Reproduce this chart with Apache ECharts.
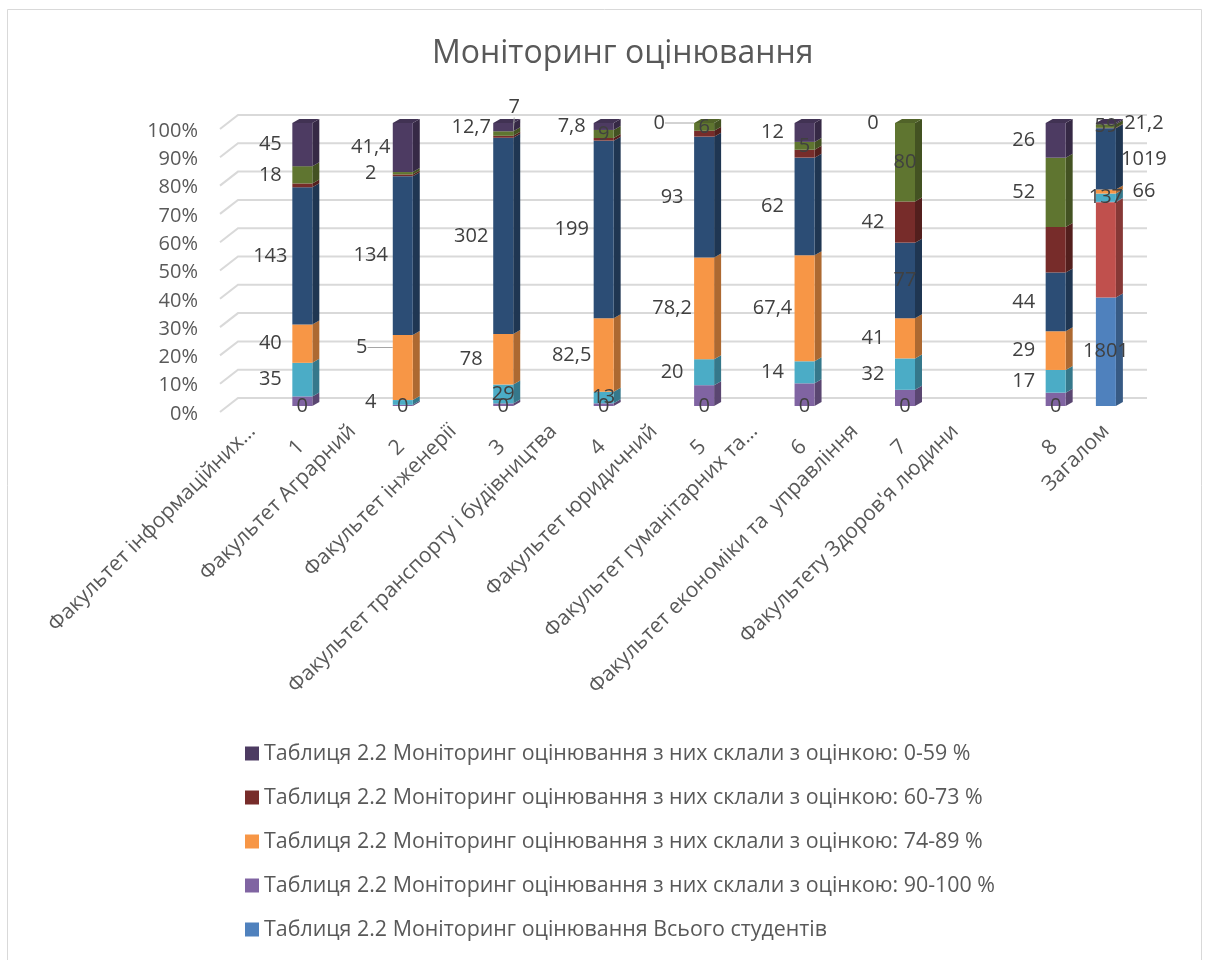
<!DOCTYPE html>
<html>
<head>
<meta charset="utf-8">
<title>Моніторинг оцінювання</title>
<script src="https://cdn.jsdelivr.net/npm/echarts@6.0.0/dist/echarts.min.js"></script>
<style>
  html, body { margin: 0; padding: 0; background: #fff; }
  #chart { width: 1215px; height: 960px; }
</style>
</head>
<body>
<div id="chart"></div>
<script>
// ----------------------- дані start -------------------
// категорії осі X (стовпці стоять тільки на слотах barSlots)
var categories = ['Факультет інформаційних…', '1', 'Факультет Аграрний', '2', 'Факультет інженерії', '3',
  'Факультет транспорту і будівництва', '4', 'Факультет юридичний', '5', 'Факультет гуманітарних та…', '6',
  'Факультет економіки та  управління', '7', "Факультету Здоров'я людини", '', '8', 'Загалом']
var barSlots = [1, 3, 5, 7, 9, 11, 13, 16, 17]

// ряди знизу вгору, по одному значенню на стовпець (1..8, Загалом)
var totalStudents = [0, 0, 0, 0, 0, 0, 0, 0, 1801]
var row2 = [0, 0, 0, 0, 0, 0, 0, 0, 1580]
var grade90 = [10, 1, 4, 3, 16, 14.4, 16.5, 10, 5]
var row5 = [35, 4, 29, 13, 20, 14, 32, 17, 137]
var grade74 = [40, 55, 78, 82.5, 78.2, 67.4, 41, 29, 66]
var row7 = [143, 134, 302, 199, 93, 62, 77, 44, 1019]
var grade60 = [4, 1.5, 3, 3, 4.5, 5, 42, 34, 5]
var row9 = [18, 2, 7, 9, 6, 5, 80, 52, 59]
var grade0 = [45, 41.4, 12.7, 7.8, 0, 12, 0, 26, 21.2]

var yTicks = [0, 10, 20, 30, 40, 50, 60, 70, 80, 90, 100]
// ----------------------- дані end -------------------

var NAME = 'Таблиця 2.2 Моніторинг оцінювання '
var TEXT = '#595959'
var LABEL = '#404040'
var FONT = 'Open Sans'
var BAR_W = 20
var DX = 7, DY = 4   // глибина стовпця
var WALL_DX = 18, WALL_DY = 14  // глибина стінки

// labels: 'all' | 'none' | [індекси стовпців]
var seriesDefs = [
  { name: NAME + 'Всього студентів', data: totalStudents, color: '#4F81BD', labels: 'all', posAt: { all: 'inside' } },
  { name: 'Ряд 2', data: row2, color: '#C0504D', labels: 'none' },
  { name: NAME + 'з них склали з оцінкою: 90-100 %', data: grade90, color: '#8064A2', labels: 'none' },
  { name: 'Ряд 5', data: row5, color: '#4BACC6', labels: 'all', posAt: { 2: 'inside', 3: 'inside', 8: 'inside' } },
  { name: NAME + 'з них склали з оцінкою: 74-89 %', data: grade74, color: '#F79646', labels: 'all',
    posAt: { 8: 'right' }, textAt: { 1: '5' }, moveAt: { 1: [-9, -20] } },
  { name: 'Ряд 7', data: row7, color: '#2C4D75', labels: 'all', posAt: { 6: 'inside', 8: 'right' } },
  { name: NAME + 'з них склали з оцінкою: 60-73 %', data: grade60, color: '#772C2A', labels: [6] },
  { name: 'Ряд 9', data: row9, color: '#5F7530', labels: 'all',
    posAt: { 2: 'inside', 3: 'inside', 4: 'inside', 5: 'inside', 6: 'inside', 8: 'inside' }, moveAt: { 2: [11, -26] } },
  { name: NAME + 'з них склали з оцінкою: 0-59 %', data: grade0, color: '#4D3B62', labels: 'all',
    posAt: { 8: 'right' }, moveAt: { 4: [-13, 0] } }
]
var legendOrder = [8, 6, 4, 2, 0]

function shade(hex, k) {
  var n = parseInt(hex.slice(1), 16)
  var r = Math.round(((n >> 16) & 255) * k), g = Math.round(((n >> 8) & 255) * k), b = Math.round((n & 255) * k)
  return 'rgb(' + Math.min(r, 255) + ',' + Math.min(g, 255) + ',' + Math.min(b, 255) + ')'
}

function fmt(v) {
  return String(v).replace('.', ',')
}

// сума по кожному стовпцю для 100% накопичення
var totals = barSlots.map(function (s, b) {
  var t = 0
  seriesDefs.forEach(function (d) { t += d.data[b] })
  return t
})

var labelPlaces = {
  left: [BAR_W / 2 - 32, '50%'],
  inside: [BAR_W / 2, '50%'],
  right: [BAR_W / 2 + 38, '50%']
}

var barSeries = seriesDefs.map(function (d, si) {
  var data = categories.map(function () { return '-' })
  barSlots.forEach(function (slot, b) {
    var shown = d.labels === 'all' || (d.labels instanceof Array && d.labels.indexOf(b) !== -1)
    var place = (d.posAt && (d.posAt[b] || d.posAt.all)) || 'left'
    var item = {
      value: d.data[b] / totals[b] * 100,
      raw: d.data[b],
      label: {
        show: shown,
        position: labelPlaces[place],
        align: 'center',
        verticalAlign: 'middle'
      }
    }
    if (d.textAt && d.textAt[b] !== undefined) item.labelText = d.textAt[b]
    if (d.moveAt && d.moveAt[b]) {
      item.move = d.moveAt[b]
      item.labelLine = { show: true, lineStyle: { color: '#a6a6a6', width: 1 } }
    }
    data[slot] = item
  })
  return {
    name: d.name,
    type: 'bar',
    stack: 'total',
    barWidth: BAR_W,
    z: 3,
    itemStyle: { color: d.color },
    label: {
      color: LABEL,
      fontFamily: FONT,
      fontSize: 20,
      formatter: function (p) {
        return p.data.labelText !== undefined ? p.data.labelText : fmt(p.data.raw)
      }
    },
    labelLine: { show: false },
    labelLayout: function (p) {
      var it = data[p.dataIndex]
      if (it && it.move) return { dx: it.move[0], dy: it.move[1] }
    },
    data: data
  }
})

// бічні та верхні грані стовпців (об'ємний вигляд)
var faceData = []
barSlots.forEach(function (slot, b) {
  var acc = 0, topIdx = -1
  seriesDefs.forEach(function (d, si) { if (d.data[b] > 0) topIdx = si })
  seriesDefs.forEach(function (d, si) {
    var pct = d.data[b] / totals[b] * 100
    if (pct > 0) faceData.push([slot, acc, acc + pct, si, si === topIdx ? 1 : 0])
    acc += pct
  })
})

var faceSeries = {
  type: 'custom',
  z: 2,
  silent: true,
  data: faceData,
  renderItem: function (params, api) {
    var slot = api.value(0), si = api.value(3)
    var p0 = api.coord([slot, api.value(1)])
    var p1 = api.coord([slot, api.value(2)])
    var x = p0[0] + BAR_W / 2
    var col = seriesDefs[si].color
    var children = [{
      type: 'polygon',
      shape: { points: [[x, p0[1]], [x + DX, p0[1] - DY], [x + DX, p1[1] - DY], [x, p1[1]]] },
      style: { fill: shade(col, 0.7) }
    }]
    if (api.value(4)) {
      children.push({
        type: 'polygon',
        shape: { points: [[x - BAR_W, p1[1]], [x - BAR_W + DX, p1[1] - DY], [x + DX, p1[1] - DY], [x, p1[1]]] },
        style: { fill: shade(col, 0.85) }
      })
    }
    return { type: 'group', children: children }
  }
}

// лінії сітки на задній і бічній стінках
var wallSeries = {
  type: 'custom',
  z: 1,
  silent: true,
  data: yTicks.map(function (v) { return [0, v] }),
  renderItem: function (params, api) {
    var cs = params.coordSys
    var y = api.coord([0, api.value(1)])[1]
    var x0 = cs.x - 7, y0 = y + 6
    return {
      type: 'polyline',
      shape: { points: [[x0, y0], [x0 + WALL_DX, y0 - WALL_DY], [cs.x + cs.width + 16, y0 - WALL_DY]] },
      style: { fill: null, stroke: '#d9d9d9', lineWidth: 2 }
    }
  }
}

var chart = echarts.init(document.getElementById('chart'), null, { renderer: 'canvas' })
chart.setOption({
  animation: false,
  backgroundColor: '#fff',
  textStyle: { fontFamily: FONT },
  title: {
    text: 'Моніторинг оцінювання',
    left: 427,
    top: 33,
    textStyle: { color: TEXT, fontSize: 32, fontWeight: 'normal', fontFamily: FONT }
  },
  graphic: [{
    type: 'rect',
    silent: true,
    shape: { x: 7.5, y: 9.5, width: 1194, height: 980 },
    style: { fill: 'none', stroke: '#d9d9d9', lineWidth: 1 }
  }],
  legend: {
    orient: 'vertical',
    left: 240,
    top: 738,
    itemWidth: 14,
    itemHeight: 14,
    itemGap: 23,
    icon: 'rect',
    selectedMode: false,
    textStyle: { color: TEXT, fontSize: 21.4, fontFamily: FONT },
    data: legendOrder.map(function (i) { return seriesDefs[i].name })
  },
  grid: { left: 227, right: 84, top: 123, bottom: 554 },
  xAxis: {
    type: 'category',
    data: categories,
    axisLine: { show: false },
    axisTick: { show: false },
    axisLabel: {
      interval: 0, rotate: 45, margin: 22, color: TEXT, fontSize: 21, fontFamily: FONT,
      formatter: function (v) { return /^\d$/.test(v) ? '{n|' + v + '}' : v },
      rich: { n: { fontSize: 21, fontFamily: FONT, color: TEXT, padding: [20, 12, 0, 0] } }
    }
  },
  yAxis: {
    type: 'value',
    min: 0,
    max: 100,
    interval: 10,
    axisLine: { show: false },
    axisTick: { show: false },
    splitLine: { show: false },
    axisLabel: {
      formatter: '{value}%', margin: 29, verticalAlign: 'top', lineHeight: 16,
      color: TEXT, fontSize: 20, fontFamily: FONT
    }
  },
  series: [wallSeries, faceSeries].concat(barSeries)
})
</script>
</body>
</html>
